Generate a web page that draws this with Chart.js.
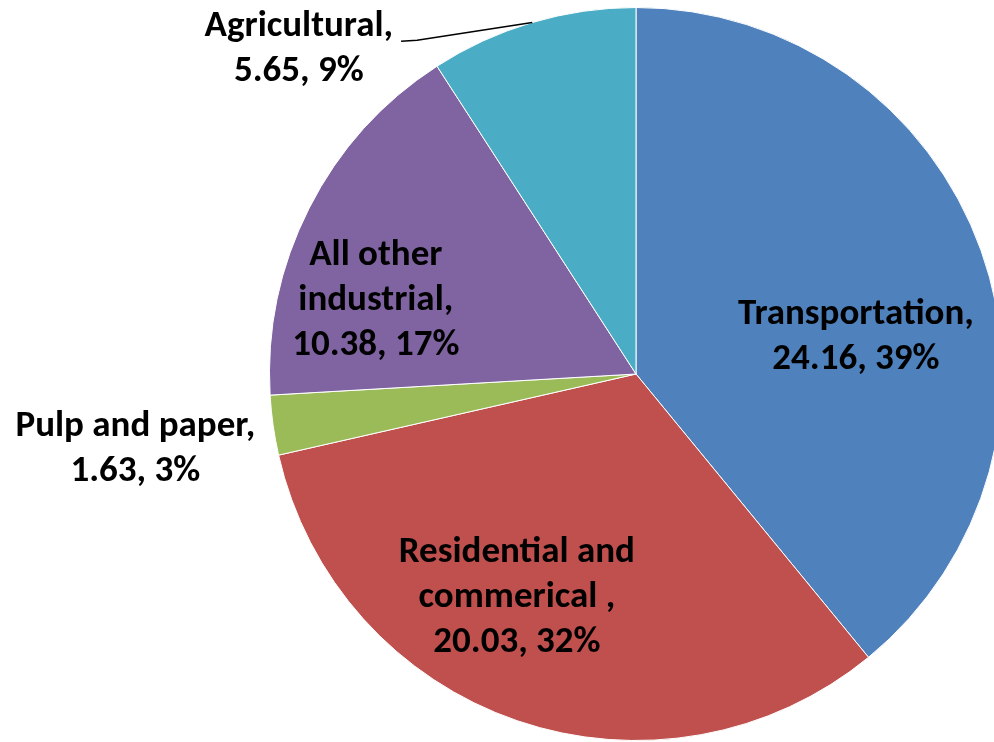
<!DOCTYPE html>
<html>
<head>
<meta charset="utf-8">
<script src="https://cdn.jsdelivr.net/npm/chart.js@4.4.1/dist/chart.umd.min.js"></script>
<style>
  html, body { margin: 0; padding: 0; background: #ffffff; overflow: hidden; }
  #wrap { width: 994px; height: 742px; overflow: hidden; position: relative; }
  canvas { display: block; }
</style>
</head>
<body>
<div id="wrap"><canvas id="c" width="1010" height="742"></canvas></div>
<script>
// ---- data ----
const categories = ['Transportation', 'Residential and commerical ', 'Pulp and paper', 'All other industrial', 'Agricultural'];
const values = [24.16, 20.03, 1.63, 10.38, 5.65];
const colors = ['#4F81BD', '#C0504D', '#9BBB59', '#8064A2', '#4BACC6'];
// how each category name wraps in its label
const nameLines = [['Transportation,'], ['Residential and', 'commerical ,'], ['Pulp and paper,'], ['All other', 'industrial,'], ['Agricultural,']];
// label block centre, as fractions of the pie radius from the pie centre
const labelPos = [[0.60, -0.10], [-0.325, 0.61], [-1.366, 0.205], [-0.71, -0.20], [-0.92, -0.885]];
const leader = [false, false, false, false, true];

const total = values.reduce((a, b) => a + b, 0);

const labelPlugin = {
  id: 'excelLabels',
  afterDatasetsDraw(chart) {
    const ctx = chart.ctx;
    const meta = chart.getDatasetMeta(0);
    ctx.save();
    ctx.fillStyle = '#000';
    ctx.font = 'bold 37px Carlito, Lato, sans-serif';
    ctx.textAlign = 'center';
    ctx.textBaseline = 'middle';
    const lh = 45;
    meta.data.forEach((arc, i) => {
      const p = arc.getProps(['x', 'y', 'startAngle', 'endAngle', 'outerRadius'], true);
      const R = p.outerRadius;
      const cx = p.x + labelPos[i][0] * R;
      const cy = p.y + labelPos[i][1] * R;
      const pct = Math.round(values[i] / total * 100);
      const lines = nameLines[i].concat([values[i].toFixed(2) + ', ' + pct + '%']);
      const n = lines.length;
      lines.forEach((t, k) => {
        ctx.fillText(t, cx, cy + (k - (n - 1) / 2) * lh);
      });
      if (leader[i]) {
        const mid = (p.startAngle + p.endAngle) / 2;
        const ex = p.x + Math.cos(mid) * R;
        const ey = p.y + Math.sin(mid) * R;
        const w0 = ctx.measureText(nameLines[i][0]).width;
        const sx = cx + w0 / 2 + 8;
        const sy = cy - ((n - 1) / 2) * lh + 14;
        ctx.beginPath();
        ctx.strokeStyle = '#000';
        ctx.lineWidth = 1.5;
        ctx.moveTo(sx, sy);
        ctx.lineTo(sx + 16, sy - 1);
        ctx.lineTo(ex, ey);
        ctx.stroke();
      }
    });
    ctx.restore();
  }
};

new Chart(document.getElementById('c'), {
  type: 'pie',
  data: {
    labels: categories,
    datasets: [{
      data: values,
      backgroundColor: colors,
      borderColor: '#ffffff',
      borderWidth: 1
    }]
  },
  options: {
    responsive: false,
    animation: false,
    devicePixelRatio: 1,
    layout: { padding: { left: 269, right: 7, top: 7, bottom: 1 } },
    plugins: {
      legend: { display: false },
      tooltip: { enabled: false }
    }
  },
  plugins: [labelPlugin]
});
</script>
</body>
</html>
